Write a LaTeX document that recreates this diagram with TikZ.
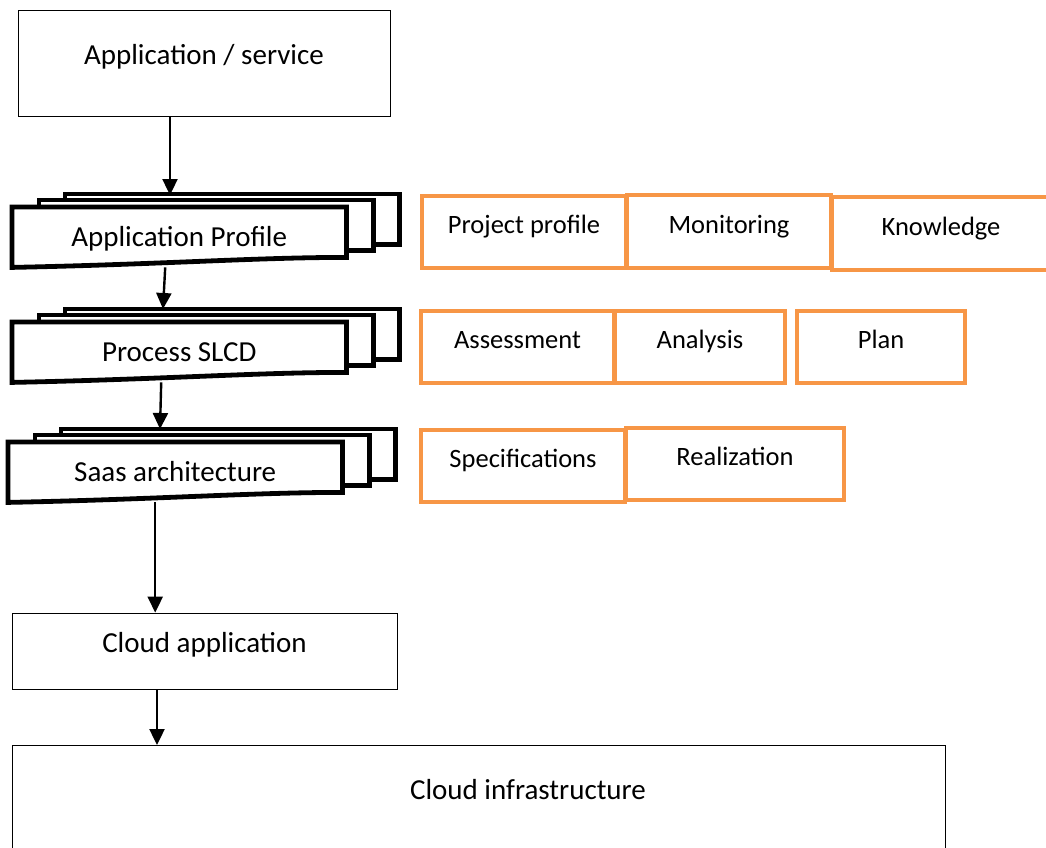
\documentclass[tikz,border=0pt]{standalone}
\usepackage{fontspec}
\setmainfont{Carlito}
\usetikzlibrary{arrows.meta,%
                backgrounds}
\definecolor{offorange}{RGB}{247,150,70}

\tikzset{
  plainbox/.style={draw, line width=0.8pt, inner sep=0pt, text height=20pt, text depth=17pt,
                   font=\fontsize{29}{33}\selectfont},
  docbox/.style={inner sep=0pt, minimum width=334pt, minimum height=60pt, text height=24pt,
                 text depth=5pt, font=\fontsize{29}{33}\selectfont},
  docline/.style={draw, line width=4.8pt, fill=white},
  taskbox/.style={draw=offorange, line width=3.5pt, inner sep=0pt, minimum height=72pt,
                  text height=20pt, text depth=17pt, font=\fontsize{26.5}{30}\selectfont},
  flow/.style={line width=2.4pt, -{Triangle[width=15pt,length=16pt]}}
}

% stack of three documents: name, x, y (top left of front sheet), text
\newcommand{\docstack}[4]{%
  \node[docbox, anchor=north west] (#1) at (#2,#3) {#4};
  \begin{pgfonlayer}{background}
    \foreach \dx/\dy in {53/-13,27/-7}
      \draw[docline] ([shift={(\dx,\dy)}]#1.north west) rectangle ([shift={(\dx,\dy-10)}]#1.south east);
    \draw[docline] (#1.north west) -- (#1.north east) -- ([shift={(0,-10)}]#1.south east)
      .. controls +(-90,0) and +(150,-3) .. (#1.south west) -- cycle;
  \end{pgfonlayer}
}

\begin{document}
\begin{tikzpicture}[x=1pt,y=-1pt]
  \useasboundingbox (0,0) rectangle (1046,848);
  \node[plainbox, minimum width=372pt, minimum height=106pt] (app) at (204,63) {Application / service};
  \docstack{prof}{12}{207}{Application Profile}
  \docstack{slcd}{12}{322}{Process SLCD}
  \docstack{saas}{8}{442}{Saas architecture}
  \node[plainbox, minimum width=385pt, minimum height=76pt] (capp) at (204.5,651) {Cloud application};
  \node[plainbox, anchor=north west, minimum width=933pt, minimum height=130pt] (infra) at (12,745) {};
  \node[font=\fontsize{29}{33}\selectfont] (infralabel) at (528,790) {Cloud infrastructure};
  % tasks
  \node[taskbox, minimum width=204pt] (pprof) at (524,232) {Project profile};
  \node[taskbox, minimum width=204pt, minimum height=73pt] (monit) at (729,231.5) {Monitoring};
  \node[taskbox, minimum width=218pt, minimum height=73pt] (knowl) at (941,233.5) {Knowledge};
  \node[taskbox, minimum width=193pt] (assess) at (517.5,347) {Assessment};
  \node[taskbox, minimum width=170pt] (analys) at (700,347) {Analysis};
  \node[taskbox, minimum width=168pt] (plan) at (881,347) {Plan};
  \node[taskbox, minimum width=204pt] (spec) at (523,466) {Specifications};
  \node[taskbox, minimum width=218pt] (real) at (735,464) {Realization};
  % flow
  \coordinate (profIn) at (170,195);
  \coordinate (slcdIn) at (163,309);
  \coordinate (saasIn) at (160,429);
  \draw[flow] (app.south -| profIn) -- (profIn);
  \draw[flow] ([xshift=-14pt]prof.south) -- (slcdIn);
  \draw[flow] ([xshift=-18pt]slcd.south) -- (saasIn);
  \draw[flow] ([xshift=-20pt]saas.south) -- ([xshift=-20pt]saas.south |- capp.north);
  \draw[flow] ([xshift=-47.5pt]capp.south) -- ([xshift=-47.5pt]capp.south |- infra.north);
\end{tikzpicture}
\end{document}
